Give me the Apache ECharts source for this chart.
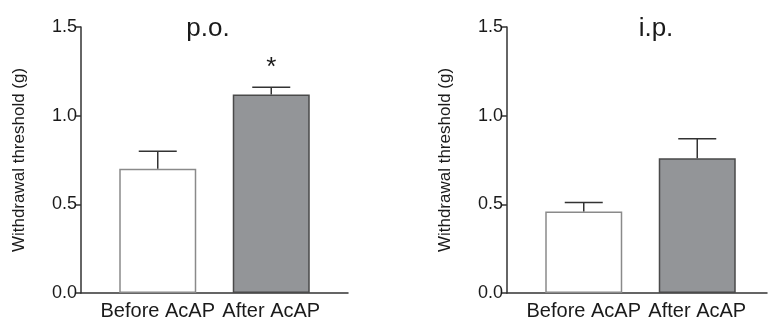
<!DOCTYPE html>
<html>
<head>
<meta charset="utf-8">
<script src="https://cdn.jsdelivr.net/npm/echarts@6/dist/echarts.min.js"></script>
<style>
  html, body { margin: 0; padding: 0; background: #fff; }
  #chart { width: 768px; height: 324px; }
</style>
</head>
<body>
<div id="chart"></div>
<script>
// data
var categories = ["Before AcAP", "After AcAP"];
var poMean = [0.70, 1.12];
var poSem = [0.10, 0.04];
var poSig = ["", "*"];
var ipMean = [0.46, 0.76];
var ipSem = [0.05, 0.11];
var ipSig = ["", ""];
var yTicks = [0, 0.5, 1.0, 1.5];

var FONT = "Liberation Sans, Arial, sans-serif";
var INK = "#1a1a1a";
var barColors = ["#ffffff", "#939598"];
var barBorders = ["#8a8a8a", "#4a4a4a"];

var chart = echarts.init(document.getElementById("chart"));

// the frame grid carries the axis lines, the inner grid carries the bars
function frameX(grid) {
  return {
    type: "value", gridIndex: grid, min: 0, max: 1,
    axisLine: { show: true, lineStyle: { color: "#333", width: 1.5 } },
    axisTick: { show: false }, axisLabel: { show: false }, splitLine: { show: false }
  };
}
function frameY(grid) {
  return {
    type: "value", gridIndex: grid,
    min: yTicks[0], max: yTicks[yTicks.length - 1], interval: 0.5,
    name: "Withdrawal threshold (g)",
    nameLocation: "middle", nameRotate: 90, nameGap: 53,
    nameTextStyle: { fontFamily: FONT, fontSize: 17, color: INK },
    axisLine: { show: true, lineStyle: { color: "#333", width: 1.5 } },
    axisTick: { show: true, length: 5, lineStyle: { color: "#333", width: 1.5 } },
    axisLabel: {
      fontFamily: FONT, fontSize: 18, color: INK, margin: 4,
      formatter: function (v) { return v.toFixed(1); }
    },
    splitLine: { show: false }
  };
}
function barX(grid) {
  return {
    type: "category", gridIndex: grid, data: categories,
    axisLine: { show: false }, axisTick: { show: false },
    axisLabel: { fontFamily: FONT, fontSize: 20, color: INK, margin: 8, interval: 0 }
  };
}
function barY(grid) {
  return { type: "value", gridIndex: grid, min: 0, max: 1.5, show: false };
}

function barSeries(axis, mean) {
  return {
    type: "bar", xAxisIndex: axis, yAxisIndex: axis, barWidth: 77,
    data: mean.map(function (v, i) {
      return { value: v, itemStyle: { color: barColors[i], borderColor: barBorders[i], borderWidth: 1.5 } };
    }),
    z: 3
  };
}

function errSeries(axis, mean, sem, sig) {
  return {
    type: "custom", xAxisIndex: axis, yAxisIndex: axis, z: 4,
    encode: { x: 0, y: [1, 2] },
    data: mean.map(function (v, i) { return [i, v, v + sem[i]]; }),
    renderItem: function (params, api) {
      var base = api.coord([api.value(0), api.value(1)]);
      var top = api.coord([api.value(0), api.value(2)]);
      var half = 19;
      var style = { stroke: "#333", lineWidth: 1.5 };
      var kids = [
        { type: "line", shape: { x1: top[0], y1: base[1], x2: top[0], y2: top[1] }, style: style },
        { type: "line", shape: { x1: top[0] - half, y1: top[1], x2: top[0] + half, y2: top[1] }, style: style }
      ];
      var s = sig[params.dataIndex];
      if (s) {
        kids.push({
          type: "text",
          style: { text: s, x: top[0], y: top[1] - 6, textAlign: "center", textVerticalAlign: "bottom",
                   font: "26px " + FONT, fill: INK }
        });
      }
      return { type: "group", children: kids };
    }
  };
}

var option = {
  animation: false,
  backgroundColor: "#fff",
  title: [
    { text: "p.o.", left: 203, top: 11, textAlign: "center",
      textStyle: { fontFamily: FONT, fontSize: 26, fontWeight: "normal", color: INK } },
    { text: "i.p.", left: 651, top: 11, textAlign: "center",
      textStyle: { fontFamily: FONT, fontSize: 26, fontWeight: "normal", color: INK } }
  ],
  grid: [
    { left: 81, top: 27, width: 267, height: 266 },
    { left: 101, top: 27, width: 227, height: 266 },
    { left: 507, top: 27, width: 260, height: 266 },
    { left: 527, top: 27, width: 227, height: 266 }
  ],
  xAxis: [frameX(0), barX(1), frameX(2), barX(3)],
  yAxis: [frameY(0), barY(1), frameY(2), barY(3)],
  series: [
    barSeries(1, poMean), errSeries(1, poMean, poSem, poSig),
    barSeries(3, ipMean), errSeries(3, ipMean, ipSem, ipSig)
  ]
};
chart.setOption(option);
</script>
</body>
</html>
